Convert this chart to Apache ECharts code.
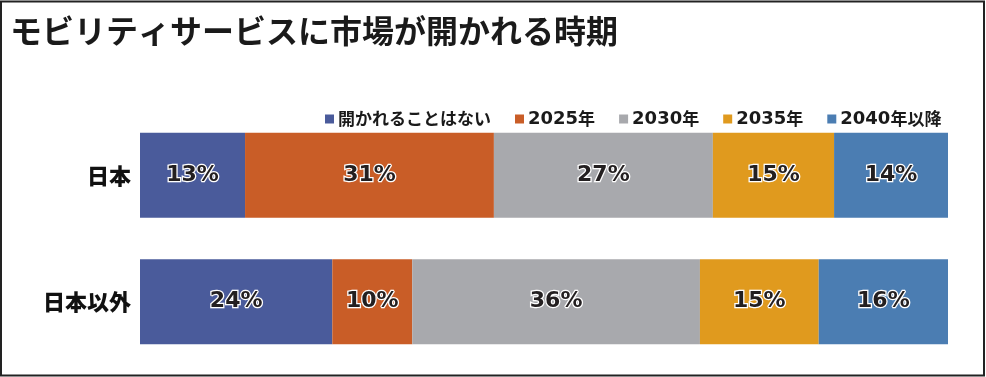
<!DOCTYPE html>
<html>
<head>
<meta charset="utf-8">
<script src="https://cdn.jsdelivr.net/npm/echarts@6/dist/echarts.min.js"></script>
<style>
html,body{margin:0;padding:0;background:#fff;}
#main{width:986px;height:377px;}
</style>
</head>
<body>
<div id="main"></div>
<script>
const titleText = 'モビリティサービスに市場が開かれる時期';
const categories = ['日本', '日本以外'];
const seriesNames = ['開かれることはない', '2025年', '2030年', '2035年', '2040年以降'];
const neverOpen = [13.0, 23.8];
const y2025 = [30.8, 9.9];
const y2030 = [27.1, 35.6];
const y2035 = [15.0, 14.7];
const y2040 = [14.1, 16.0];
const colors = ['#4a5b9b', '#c95d27', '#a8a9ad', '#e09a1e', '#4b7db2'];

const valueSets = [neverOpen, y2025, y2030, y2035, y2040];
const chart = echarts.init(document.getElementById('main'), null, {renderer: 'canvas'});

function legendFmt(name) {
  // digits in a wider font, kanji/kana in CJK font
  return name.replace(/(\d+)|([^\d]+)/g, (m, d, c) => d ? '{d|' + d + '}' : '{c|' + c + '}');
}

const option = {
  animation: false,
  backgroundColor: '#fff',
  title: {
    text: titleText,
    left: 5,
    top: 10,
    textStyle: {fontFamily: 'Noto Sans CJK JP', fontSize: 32, fontWeight: 'bold', color: '#1a1a1a'}
  },
  legend: {
    left: 320,
    top: 105,
    itemWidth: 9,
    itemHeight: 9,
    itemGap: 24,
    icon: 'rect',
    formatter: legendFmt,
    textStyle: {
      color: '#1a1a1a',
      padding: [0, 0, 0, -1],
      rich: {
        d: {fontFamily: 'DejaVu Sans', fontWeight: 'bold', fontSize: 18, color: '#1a1a1a'},
        c: {fontFamily: 'Noto Sans CJK JP', fontWeight: 'bold', fontSize: 17, color: '#1a1a1a'}
      }
    },
    data: seriesNames
  },
  grid: {left: 140, right: 38, top: 112, height: 253},
  xAxis: {type: 'value', min: 0, max: 100, show: false},
  yAxis: {
    type: 'category',
    inverse: true,
    data: categories,
    axisLine: {show: false},
    axisTick: {show: false},
    axisLabel: {fontFamily: 'Noto Sans CJK JP', fontSize: 22, fontWeight: 900, color: '#111', margin: 9}
  },
  graphic: [{
    type: 'rect',
    shape: {x: 1, y: 1.5, width: 983, height: 374},
    style: {fill: 'none', stroke: '#222', lineWidth: 2},
    silent: true
  }],
  series: seriesNames.map((name, i) => ({
    name: name,
    type: 'bar',
    stack: 'total',
    barWidth: 85,
    itemStyle: {color: colors[i]},
    label: {
      show: true,
      position: 'inside',
      formatter: p => Math.round(p.value) + '%',
      fontFamily: 'DejaVu Sans',
      fontWeight: 'bold',
      fontSize: 22,
      color: '#231f20',
      textBorderColor: '#fff',
      textBorderWidth: 2.5
    },
    data: valueSets[i]
  }))
};
chart.setOption(option);
</script>
</body>
</html>
